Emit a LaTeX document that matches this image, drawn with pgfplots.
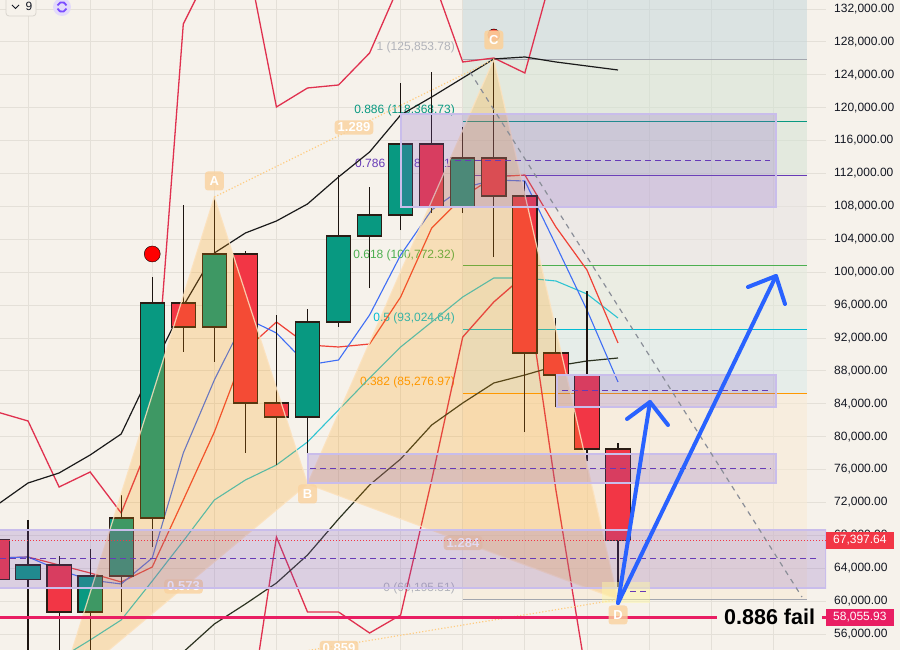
\documentclass[border=0pt]{standalone}
\usepackage{fontspec}
\setmainfont{Liberation Sans}
\usepackage{pgfplots}
\usepackage{pgfplotstable}
\pgfplotsset{compat=1.18}
\definecolor{bg}{HTML}{F6F2EB}
\definecolor{gridc}{HTML}{E4E0D8}
\definecolor{upc}{HTML}{089981}
\definecolor{dnc}{HTML}{F23645}
\definecolor{wickc}{HTML}{1C1410}
\definecolor{bodyb}{HTML}{2A1C14}
\definecolor{tickc}{HTML}{131722}
\definecolor{crim}{HTML}{E0314F}
\definecolor{emared}{HTML}{EF4136}
\definecolor{emablue}{HTML}{3F6EF5}
\definecolor{emacyan}{HTML}{2EC4D2}
\definecolor{emablack}{HTML}{1A1A1A}
\definecolor{emaolive}{HTML}{2B3220}
\definecolor{fA}{HTML}{C2D6DB}
\definecolor{fB}{HTML}{D2E2D3}
\definecolor{fD}{HTML}{E6E2E3}
\definecolor{fE}{HTML}{E2EADD}
\definecolor{fF}{HTML}{D8EAE9}
\definecolor{fG}{HTML}{F8EAD3}
\definecolor{fibgray}{HTML}{A3A6AE}
\definecolor{fibteal}{HTML}{089981}
\definecolor{fibpurple}{HTML}{673AB7}
\definecolor{fibgreen}{HTML}{4CAF50}
\definecolor{fibcyan}{HTML}{00BCD4}
\definecolor{fiborange}{HTML}{FF9800}
\definecolor{tri}{HTML}{FF9800}
\definecolor{triedge}{HTML}{FCE2BE}
\definecolor{tridot}{HTML}{FFCC80}
\definecolor{lblc}{HTML}{FAD29E}
\definecolor{boxc}{HTML}{7E57C2}
\definecolor{boxb}{HTML}{C9BDEB}
\definecolor{arrowc}{HTML}{2962FF}
\definecolor{failc}{HTML}{E91E63}
\definecolor{diagc}{HTML}{8A8E98}
\definecolor{widgetb}{HTML}{D9D5CE}
\definecolor{iconbg}{HTML}{E3DAFB}
\definecolor{iconfg}{HTML}{7B4DFF}

\pgfplotstableread{
k O H L C up
0 67500 71900 58400 62600 0
1 62600 69860 53500 64390 1
2 64390 65480 49000 58680 0
3 58680 66340 52500 63050 1
4 63050 72900 58680 70100 1
5 70100 99410 66580 96250 1
6 96250 108170 90290 93330 0
7 93330 109140 89080 102210 1
8 102210 102570 78010 84090 0
9 84090 94790 76550 82390 0
10 82390 95520 74240 93940 1
11 93940 111810 93330 104400 1
12 104400 110360 98070 106950 1
13 106950 123000 105100 115580 1
14 115580 124340 107190 107920 0
15 107920 117650 107190 113880 1
16 113880 125854 101840 109260 0
17 109260 111080 80560 90170 0
18 90170 94430 83600 87490 0
19 87490 97710 77000 78500 0
20 78500 79230 61700 67397.64 0
}\candles

\pgfplotstableread{
k v
0 71686
1 74361
2 75578
3 77766
4 80320
5 88224
6 95884
7 102329
8 104761
9 106220
10 108288
11 111571
12 114611
13 119110
14 121299
15 123609
16 125920
17 126163
18 125555
19 125068
20 124582
}\mablack

\pgfplotstableread{
k v
5 49190
6 53811
7 57216
8 59646
9 62201
10 65606
11 69984
12 74118
13 77280
14 81414
15 84089
16 86521
17 87494
18 88588
19 89196
20 89561
}\maolive

\pgfplotstableread{
k v
1 50649
2 52960
3 55270
4 57702
5 62444
6 67308
7 72294
8 74726
9 76550
10 79347
11 83238
12 87129
13 90899
14 93939
15 96979
16 99289
17 99289
18 98924
19 97344
20 94425
}\macyan

\pgfplotstableread{
k v
0 65241
1 65363
2 63782
3 62566
4 62080
5 65241
6 78009
7 86886
8 94425
9 92601
10 88710
11 89318
12 94790
13 102086
14 107558
15 110233
16 111206
17 111084
18 103302
19 95398
20 86643
}\mablue

\pgfplotstableread{
k v
0 65241
1 65363
2 64390
3 63418
4 62323
5 64147
6 72294
7 80563
8 90534
9 93939
10 91142
11 90899
12 91264
13 96979
14 105369
15 109139
16 111571
17 111814
18 105491
19 100262
20 91385
}\mared

\pgfplotstableread{
k v
0 83000
1 81900
2 73875
3 75699
4 70713
5 80076
6 130176
7 137715
8 139296
9 120083
10 122393
11 122758
12 126649
13 135283
14 136134
15 125555
16 126041
17 124218
18 137958
}\crimup

\pgfplotstableread{
k v
8 42745
9 67795
10 58675
11 58675
12 56121
13 58310
14 74726
15 92114
16 96371
17 99654
18 73510
19 50406
}\crimlo

\begin{document}
\begin{tikzpicture}
\useasboundingbox (0,0) rectangle (900pt,650pt);
\fill[bg] (0,0) rectangle (900pt,650pt);
\begin{axis}[
  at={(0,0)}, anchor=south west, scale only axis,
  width=826pt, height=650pt,
  xmin=0, xmax=826, ymin=54054, ymax=133094,
  axis line style={draw=none},
  tick style={draw=none},
  xtick={28.05,90.15,152.25,214.35,276.45,338.55,400.65,462.75,524.85,586.95,649.05,711.15,773.25},
  xticklabels={},
  ytick={56000,60000,64000,68000,72000,76000,80000,84000,88000,92000,96000,100000,104000,108000,112000,116000,120000,124000,128000,132000},
  yticklabels={{56,000.00},{60,000.00},{64,000.00},{68,000.00},{72,000.00},{76,000.00},{80,000.00},{84,000.00},{88,000.00},{92,000.00},{96,000.00},{100,000.00},{104,000.00},{108,000.00},{112,000.00},{116,000.00},{120,000.00},{124,000.00},{128,000.00},{132,000.00}},
  yticklabel pos=right,
  yticklabel style={anchor=west, inner sep=0pt, xshift=8pt, font=\fontsize{12}{14}\selectfont, text=tickc},
  grid=major, major grid style={draw=gridc, line width=0.8pt},
  clip=true,
]
% fib fills
\addplot[draw=none, fill=fA, fill opacity=0.5, forget plot] coordinates {(463,125853.78) (807,125853.78) (807,134000) (463,134000)} -- cycle;
\addplot[draw=none, fill=fB, fill opacity=0.5, forget plot] coordinates {(463,118368.73) (807,118368.73) (807,125853.78) (463,125853.78)} -- cycle;
\addplot[draw=none, fill=fB, fill opacity=0.5, forget plot] coordinates {(463,111802.91) (807,111802.91) (807,118368.73) (463,118368.73)} -- cycle;
\addplot[draw=none, fill=fD, fill opacity=0.5, forget plot] coordinates {(463,100772.32) (807,100772.32) (807,111802.91) (463,111802.91)} -- cycle;
\addplot[draw=none, fill=fE, fill opacity=0.5, forget plot] coordinates {(463,93024.64) (807,93024.64) (807,100772.32) (463,100772.32)} -- cycle;
\addplot[draw=none, fill=fF, fill opacity=0.5, forget plot] coordinates {(463,85276.97) (807,85276.97) (807,93024.64) (463,93024.64)} -- cycle;
\addplot[draw=none, fill=fG, fill opacity=0.5, forget plot] coordinates {(463,60195.51) (807,60195.51) (807,85276.97) (463,85276.97)} -- cycle;
% fib lines
\addplot[fibgray, line width=1pt] coordinates {(463,125853.78) (807,125853.78)};
\addplot[fibteal, line width=1pt] coordinates {(463,118368.73) (807,118368.73)};
\addplot[fibpurple, line width=1pt] coordinates {(463,111802.91) (807,111802.91)};
\addplot[fibgreen, line width=1pt] coordinates {(463,100772.32) (807,100772.32)};
\addplot[fibcyan, line width=1pt] coordinates {(463,93024.64) (807,93024.64)};
\addplot[fiborange, line width=1pt] coordinates {(463,85276.97) (807,85276.97)};
\addplot[fibgray, line width=1pt] coordinates {(463,60195.51) (807,60195.51)};
\begin{scope}[every node/.style={anchor=east, inner sep=0pt, font=\fontsize{12}{14}\selectfont}]
\node[text=fibgray!85] at (axis cs:455,127379) {1 (125,853.78)};
\node[text=fibteal] at (axis cs:455,119718) {0.886 (118,368.73)};
\node[text=fibpurple] at (axis cs:455,113152) {0.786 (111,802.91)};
\node[text=fibgreen] at (axis cs:455,102086) {0.618 (100,772.32)};
\node[text=fibcyan] at (axis cs:455,94425) {0.5 (93,024.64)};
\node[text=fiborange] at (axis cs:455,86643) {0.382 (85,276.97)};
\node[text=fibgray!85] at (axis cs:455,61593) {0 (60,195.51)};
\end{scope}
% moving averages and bands
\addplot[crim, line width=1.3pt] table[x expr=-3+31.05*\thisrow{k}, y=v] {\crimup};
\addplot[crim, line width=1.3pt] table[x expr=-3+31.05*\thisrow{k}, y=v] {\crimlo};
\addplot[emaolive, line width=1.2pt] table[x expr=-3+31.05*\thisrow{k}, y=v] {\maolive};
\addplot[emablack, line width=1.2pt] table[x expr=-3+31.05*\thisrow{k}, y=v] {\mablack};
\addplot[emacyan, line width=1.1pt] table[x expr=-3+31.05*\thisrow{k}, y=v] {\macyan};
\addplot[emared, line width=1.2pt] table[x expr=-3+31.05*\thisrow{k}, y=v] {\mared};
\addplot[emablue, line width=1.1pt] table[x expr=-3+31.05*\thisrow{k}, y=v] {\mablue};
% candles
\pgfplotsforeachungrouped \k in {0,...,20}{
  \pgfplotstablegetelem{\k}{O}\of\candles \let\vO\pgfplotsretval
  \pgfplotstablegetelem{\k}{H}\of\candles \let\vH\pgfplotsretval
  \pgfplotstablegetelem{\k}{L}\of\candles \let\vL\pgfplotsretval
  \pgfplotstablegetelem{\k}{C}\of\candles \let\vC\pgfplotsretval
  \pgfplotstablegetelem{\k}{up}\of\candles \let\vU\pgfplotsretval
  \pgfmathsetmacro\xc{-3+31.05*\k}
  \pgfmathsetmacro\xl{\xc-12.15}
  \pgfmathsetmacro\xr{\xc+12.15}
  \ifnum\vU=1 \def\bc{upc}\else\def\bc{dnc}\fi
  \edef\tmp{\noexpand\addplot[wickc, line width=1.1pt, forget plot] coordinates {(\xc,\vL) (\xc,\vH)};}
  \tmp
  \edef\tmp{\noexpand\addplot[draw=bodyb, line width=1.1pt, fill=\bc, forget plot] coordinates {(\xl,\vO) (\xr,\vO) (\xr,\vC) (\xl,\vC)} -- cycle;}
  \tmp
}
% red signal dots
\addplot[only marks, mark=*, mark size=8pt, mark options={draw=none, fill=red}] coordinates {(152.25,102208)};
\addplot[only marks, mark=*, mark size=6pt, mark options={draw=none, fill=red}] coordinates {(493.8,128838)};
% harmonic pattern
\addplot[fill=tri, fill opacity=0.22, draw=triedge, draw opacity=0.85, line width=1.2pt] coordinates {(59.1,49000) (214.35,109139) (307.5,74240)} -- cycle;
\addplot[fill=tri, fill opacity=0.22, draw=triedge, draw opacity=0.85, line width=1.2pt] coordinates {(307.5,74240) (493.8,125853.78) (618,60195.51)} -- cycle;
\addplot[tridot, dotted, line width=1.2pt] coordinates {(214.35,109139) (493.8,125853.78)};
\addplot[tridot, dotted, line width=1.2pt] coordinates {(59.1,49000) (618,60195.51)};
\begin{scope}[every node/.style={fill=lblc, fill opacity=0.8, text opacity=1, text=white, rounded corners=3pt, inner xsep=3pt, inner ysep=2.5pt, font=\bfseries\fontsize{13}{13}\selectfont}]
\node at (axis cs:354,117590) {1.289};
\node at (axis cs:183.5,61774) {0.573};
\node at (axis cs:463,67064) {1.284};
\node at (axis cs:339,54298) {0.859};
\node[minimum size=19pt, inner sep=0pt] at (axis cs:214.35,111084) {A};
\node[minimum size=19pt, inner sep=0pt] at (axis cs:307.5,73024) {B};
\end{scope}
% purple boxes
\addplot[fill=boxc, fill opacity=0.22, draw=boxb, line width=1.6pt] coordinates {(401,107923) (776,107923) (776,119232) (401,119232)} -- cycle;
\addplot[fill=boxc, fill opacity=0.22, draw=boxb, line width=1.6pt] coordinates {(557,83603) (776,83603) (776,87494) (557,87494)} -- cycle;
\addplot[fill=boxc, fill opacity=0.22, draw=boxb, line width=1.6pt] coordinates {(308,74361) (776,74361) (776,77888) (308,77888)} -- cycle;
\addplot[fill=boxc, fill opacity=0.22, draw=boxb, line width=1.6pt] coordinates {(-5,61593) (826,61593) (826,68646) (-5,68646)} -- cycle;
\addplot[fill=yellow!35, fill opacity=0.45, draw=none] coordinates {(602,59768) (650,59768) (650,62322) (602,62322)} -- cycle;
\addplot[fibpurple, line width=1pt, dash pattern=on 6pt off 4pt] coordinates {(455,113516) (770,113516)};
\addplot[fibpurple, line width=1pt, dash pattern=on 6pt off 4pt] coordinates {(562,85548) (771,85548)};
\addplot[fibpurple, line width=1pt, dash pattern=on 6pt off 4pt] coordinates {(310,76064) (771,76064)};
\addplot[fibpurple, line width=1pt, dash pattern=on 6pt off 4pt] coordinates {(0,65120) (819,65120)};
\addplot[fibpurple, line width=1pt, dash pattern=on 6pt off 4pt] coordinates {(620,61107) (647,61107)};
% current price line
\addplot[dnc, dotted, line width=1pt] coordinates {(0,67397.64) (826,67397.64)};
% diagonal dashed
\addplot[diagc, line width=1.2pt, dash pattern=on 5pt off 5pt] coordinates {(470,124339) (802,60499)};
% 0.886 fail line
\addplot[failc, line width=3pt] coordinates {(0,58055.93) (717,58055.93)};
\addplot[failc, line width=3pt] coordinates {(822,58055.93) (828,58055.93)};
\node[anchor=west, inner sep=0pt, text=black, font=\bfseries\fontsize{21.5}{22}\selectfont] at (axis cs:724,58055.93) {0.886 fail};
\node[fill=lblc, fill opacity=0.8, text opacity=1, text=white, rounded corners=3pt, minimum size=19pt, inner sep=0pt, font=\bfseries\fontsize{13}{13}\selectfont] at (axis cs:618,58310) {D};
% blue arrows
\addplot[arrowc, line width=4pt, line cap=round, line join=round] coordinates {(618,59769) (650,84211)};
\addplot[arrowc, line width=4pt, line cap=round, line join=round] coordinates {(627,82144) (650,84211) (668,81414)};
\addplot[arrowc, line width=4pt, line cap=round, line join=round] coordinates {(618,59769) (776,99532)};
\addplot[arrowc, line width=4pt, line cap=round, line join=round] coordinates {(748,98194) (776,99532) (785,96127)};
\end{axis}
% C label over its signal dot
\node[fill=lblc, fill opacity=0.92, text opacity=1, text=white, rounded corners=3pt, minimum size=19pt, inner sep=0pt, font=\bfseries\fontsize{13}{13}\selectfont] at (493.8pt,610pt) {C};
% price scale labels
\node[fill=dnc, text=white, anchor=west, inner xsep=7pt, inner ysep=0pt, minimum height=17pt, font=\fontsize{12}{14}\selectfont] at (826pt,109.7pt) {67,397.64};
\node[fill=failc, text=white, anchor=west, inner xsep=7pt, inner ysep=0pt, minimum height=17pt, font=\fontsize{12}{14}\selectfont] at (826pt,32.9pt) {58,055.93};
% top-left widgets
\draw[draw=widgetb, fill=bg, rounded corners=3pt, line width=0.8pt] (6pt,656pt) rectangle (36pt,634pt);
\draw[tickc, line width=0.9pt] (12pt,645pt) -- (15.5pt,641.5pt) -- (19pt,645pt);
\node[text=tickc, inner sep=0pt, font=\fontsize{12}{14}\selectfont] at (29pt,644pt) {9};
\fill[iconbg] (62pt,643pt) circle (9pt);
\draw[iconfg, line width=1.8pt] (62pt,643pt) ++(20:4.8pt) arc (20:160:4.8pt);
\draw[iconfg, line width=1.8pt] (62pt,643pt) ++(200:4.8pt) arc (200:340:4.8pt);
\end{tikzpicture}
\end{document}
